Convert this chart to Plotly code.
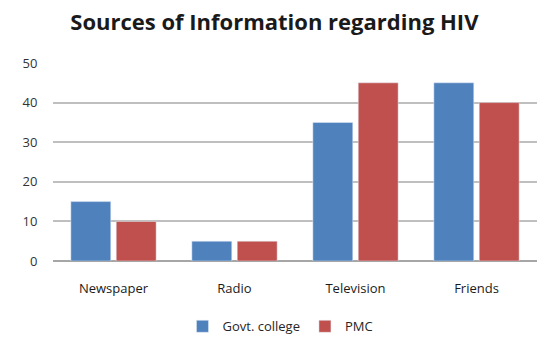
import plotly.graph_objects as go

categories = ["Newspaper", "Radio", "Television", "Friends"]
govt_college = [15, 5, 35, 45]
pmc = [10, 5, 45, 40]

fig = go.Figure()
fig.add_trace(go.Bar(x=categories, y=govt_college, name="Govt. college", marker_color="#4F81BD"))
fig.add_trace(go.Bar(x=categories, y=pmc, name="PMC", marker_color="#C0504D"))

fig.update_layout(
    width=538, height=338,
    margin=dict(l=53, r=1, t=63, b=77, autoexpand=False),
    paper_bgcolor="white", plot_bgcolor="white",
    title=dict(text="<b>Sources of Information regarding HIV</b>", x=0.51, xanchor="center",
               y=0.935, yanchor="middle",
               font=dict(family="Open Sans", size=22, color="#1a1a1a")),
    barmode="group", bargap=0.25, bargroupgap=0.12,
    font=dict(family="Open Sans", color="#262626"),
    legend=dict(orientation="h", x=0.47, xanchor="center", y=-0.33, yanchor="middle",
                font=dict(size=13), itemwidth=30, tracegroupgap=0),
    showlegend=True,
)
fig.update_yaxes(range=[0, 50], dtick=10, showgrid=True, gridcolor="#BFBFBF", gridwidth=1.5,
                 zeroline=True, zerolinecolor="#A6A6A6", zerolinewidth=1.5,
                 ticks="outside", ticklen=12, tickcolor="white",
                 tickfont=dict(size=13, color="#333333"))
fig.update_xaxes(showline=False, ticks="", tickfont=dict(size=13, color="#1a1a1a"),
                 ticklabelstandoff=18)

fig.write_html("out.html")
